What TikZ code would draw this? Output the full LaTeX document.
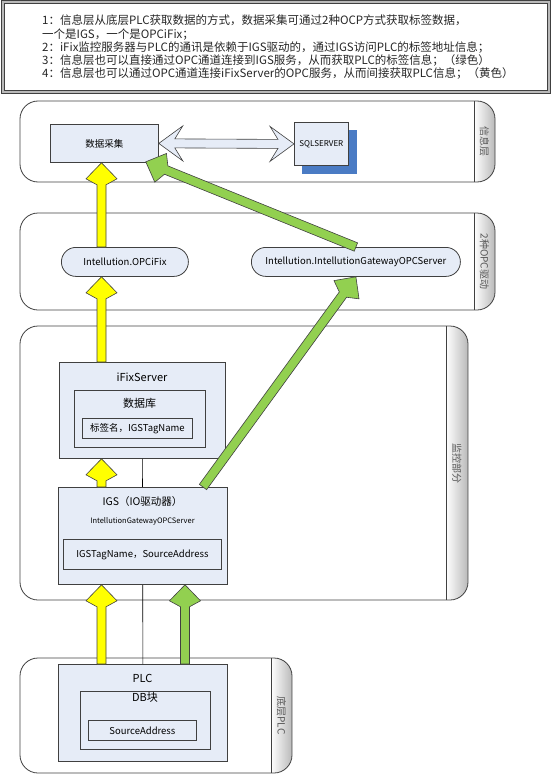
\documentclass[tikz,border=0pt]{standalone}
\usepackage{fontspec}
\setmainfont{Noto Sans CJK SC}
\usetikzlibrary{calc}

\definecolor{boxblue}{HTML}{E6ECF7}
\definecolor{sqlblue}{HTML}{4A7BC4}
\definecolor{arrowyellow}{HTML}{FFFF00}
\definecolor{arrowgreen}{HTML}{92D050}
\definecolor{edge}{HTML}{404040}

\newcommand{\fatarrow}[3]{%
  \coordinate (fa1) at ($(#3)!16pt!(#2)$);
  \coordinate (fa2) at ($(#3)!22pt!(#2)$);
  \filldraw[fill=#1,draw=edge,line width=0.6pt]
    ($(#2)!4.5pt!90:(#3)$) -- ($(fa2)!4.5pt!90:(#3)$) -- ($(fa1)!15.5pt!90:(#3)$)
    -- (#3) -- ($(fa1)!15.5pt!-90:(#3)$) -- ($(fa2)!4.5pt!-90:(#3)$)
    -- ($(#2)!4.5pt!-90:(#3)$) -- cycle;
}

\begin{document}
\begin{tikzpicture}
        [x=1pt,y=-1pt,
         box/.style={draw=edge,fill=boxblue,line width=0.8pt,inner sep=0pt,anchor=north west},
         pill/.style={box,rounded corners=14.5pt},
         title/.style={font=\fontsize{#1}{#1}\selectfont},
         tablabel/.style={text=gray!70!black,font=\fontsize{10}{10}\selectfont,rotate=-90}]
        \useasboundingbox (0,0) rectangle (554,776);

        \draw[line width=0.6pt,draw=edge,double=gray!55,double distance=2pt] (3,2) rectangle (549,92);
        \node[anchor=north west,align=left,inner sep=0pt,text=black!85,
              font=\fontsize{11.5}{13.2}\selectfont] (note) at (42,15)
          {1：信息层从底层PLC获取数据的方式，数据采集可通过2种OCP方式获取标签数据，\\
           一个是IGS，一个是OPCiFix；\\
           2：iFix监控服务器与PLC的通讯是依赖于IGS驱动的，通过IGS访问PLC的标签地址信息；\\
           3：信息层也可以直接通过OPC通道连接到IGS服务，从而获取PLC的标签信息；（绿色）\\
           4：信息层也可以通过OPC通道连接iFixServer的OPC服务，从而间接获取PLC信息；（黄色）};

        \foreach \nm/\xa/\ya/\xb/\yb/\xt/\lab in
          {info/20/101/495/182/474/信息层, opc/20/213/495/310/474/2种OPC驱动,
           mon/20/326/468/600/446/监控部分, low/20/658/292/773/271/底层PLC}{
          \begin{scope}
            \clip[rounded corners=18pt] (\xa,\ya) rectangle (\xb,\yb);
            \shade[left color=white,right color=gray!55] (\xt,\ya) rectangle (\xb,\yb);
          \end{scope}
          \draw[draw=edge,line width=0.8pt,rounded corners=18pt] (\xa,\ya) rectangle (\xb,\yb);
          \draw[draw=edge,line width=0.8pt] (\xt,\ya) -- (\xt,\yb);
          \node[tablabel] (tab-\nm) at ({(\xt+\xb)/2},{(\ya+\yb)/2}) {\lab};
        }

        \node[box,minimum width=108pt,minimum height=38pt,title=9.5] (daq) at (50,124) {数据采集};
        \node[fill=sqlblue,inner sep=0pt,anchor=north west,minimum width=55pt,minimum height=44pt] (sqlshadow) at (302,130) {};
        \node[box,minimum width=54pt,minimum height=43pt,title=8] (sql) at (294,122) {SQLSERVER};

        \node[pill,minimum width=127pt,minimum height=29pt,title=9.5] (opcifix) at (61,247) {Intellution.OPCiFix};
        \node[pill,minimum width=209pt,minimum height=29pt,title=9.5] (gateway) at (251,247) {Intellution.IntellutionGatewayOPCServer};

        \node[box,minimum width=166pt,minimum height=96pt] (ifix) at (59,362) {};
        \node[title=11] (ifixname) at (142,377) {iFixServer};
        \node[box,minimum width=131pt,minimum height=57pt] (db) at (74,390) {};
        \node[title=11] (dbname) at (139.5,403) {数据库};
        \node[box,minimum width=110pt,minimum height=20pt,title=9.5] (tagname) at (82,418) {标签名，IGSTagName};

        \node[box,minimum width=169pt,minimum height=97pt] (plc) at (58,664) {};
        \draw[line width=0.6pt] (ifix.south) -- (plc.north);
        \node[title=11] (plcname) at (142.5,678) {PLC};
        \node[box,minimum width=130pt,minimum height=58pt] (dbblock) at (80,691) {};
        \node[title=11] (dbblockname) at (145,697) {DB块};
        \node[box,minimum width=108pt,minimum height=20pt,title=9.5] (src) at (88,720) {SourceAddress};

        \node[box,minimum width=169pt,minimum height=97pt] (igs) at (58,487) {};
        \node[title=10.5] (igsname) at (142.5,502) {IGS（IO驱动器）};
        \node[title=7.5] (igssub) at (142.5,521) {IntellutionGatewayOPCServer};
        \node[box,minimum width=158pt,minimum height=30pt,title=9.5] (igstag) at (63,539) {IGSTagName，SourceAddress};

        \filldraw[fill=boxblue,draw=edge,line width=0.6pt]
          (daq.east) -- ++(24,-17.5) -- ++(-8,13) -- ($(sql.west)+(-16,-4.5)$)
          -- ++(-8,-13) -- (sql.west) -- ++(-24,17.5) -- ++(8,-13)
          -- ($(daq.east)+(16,4.5)$) -- ++(8,13) -- cycle;

        \coordinate (ylw) at (101.5,0);
        \coordinate (grn) at (185,0);
        \fatarrow{arrowyellow}{ylw |- opcifix.north}{ylw |- daq.south}
        \fatarrow{arrowyellow}{ylw |- ifix.north}{ylw |- opcifix.south}
        \fatarrow{arrowyellow}{ylw |- igs.north}{ylw |- ifix.south}
        \fatarrow{arrowyellow}{ylw |- plc.north}{ylw |- igs.south}
        \fatarrow{arrowgreen}{grn |- plc.north}{grn |- igs.south}
        \coordinate (igsout) at ($(igs.north west)+(145,0)$);
        \coordinate (daqin) at ($(daq.south east)+(-13,-1)$);
        \fatarrow{arrowgreen}{igsout}{gateway.south}
        \fatarrow{arrowgreen}{gateway.north}{daqin}
      \end{tikzpicture}
\end{document}
